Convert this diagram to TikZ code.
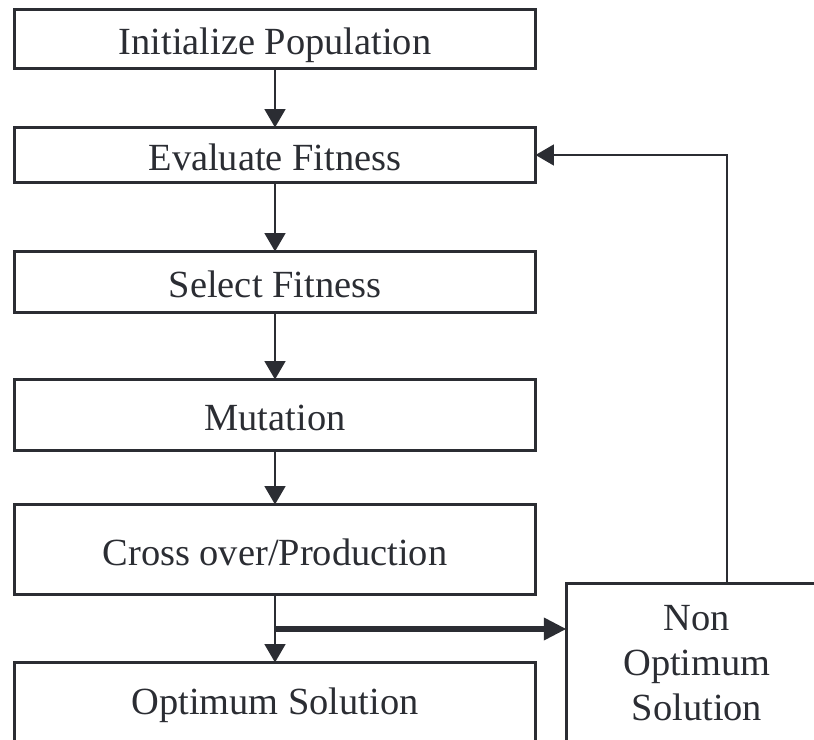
\documentclass[tikz,border=0pt]{standalone}
\usepackage{fontspec}
\setmainfont{Liberation Serif}
\usetikzlibrary{arrows.meta}
\definecolor{ink}{HTML}{2B2D33}
\begin{document}
\begin{tikzpicture}[x=0.03cm,y=-0.03cm,
  box/.style={draw=ink,line width=0.1cm,rectangle,inner sep=0pt,outer sep=0pt,
    minimum width=15.63cm,text=ink,font=\fontsize{32.8}{38.4}\selectfont,align=center},
  one/.style={text height=28pt,text depth=1.2pt},
  arr/.style={draw=ink,line width=0.07cm,-{Triangle[width=0.62cm,length=0.55cm]}},
  thickarr/.style={draw=ink,line width=0.18cm,-{Triangle[width=0.64cm,length=0.68cm]}}]
\useasboundingbox (0,0) rectangle (814,740);
\node[box,one,minimum height=1.77cm] (init) at (275,39) {Initialize Population};
\node[box,one,minimum height=1.65cm] (eval) at (275,155) {Evaluate Fitness};
\node[box,one,minimum height=1.83cm] (sel) at (275,282) {Select Fitness};
\node[box,one,minimum height=2.13cm] (mut) at (275,415) {Mutation};
\node[box,one,minimum height=2.70cm] (cross) at (275,549.5) {Cross over/Production};
\node[box,one,text depth=8pt,minimum height=2.4cm] (opt) at (275,702.5) {Optimum Solution};
\node[box,minimum width=7.83cm,minimum height=4.77cm] (non) at (697,663) {Non\\Optimum\\Solution};
\coordinate (j) at (275,629);
\coordinate (fb) at (727,155);
\draw[arr] (init) -- (eval);
\draw[arr] (eval) -- (sel);
\draw[arr] (sel) -- (mut);
\draw[arr] (mut) -- (cross);
\draw[arr] (cross) -- (opt);
\draw[thickarr] (j) -- (non.west |- j);
\draw[arr] (fb |- non.north) -- (fb) -- (eval.east);
\end{tikzpicture}
\end{document}
